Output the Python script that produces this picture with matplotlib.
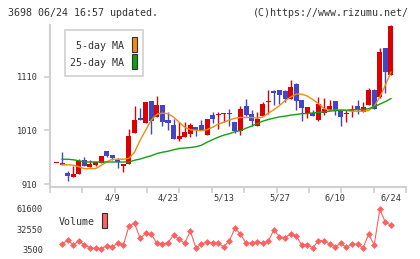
import numpy as np
import matplotlib
matplotlib.use("Agg")
import matplotlib.pyplot as plt
from matplotlib.patches import Rectangle

# price data
opens = [949, 949, 931, 923.6, 929, 954.7, 942.8, 945.4, 950.4, 972,
         964, 956, 943.5, 947.2, 1005.5, 1033, 1024, 1064.6, 1035, 1057,
         1029, 1020, 993.8, 998, 1003, 1016, 1020, 1001, 1038, 1038,
         1040, 1042, 1025.4, 1009, 1055, 1040, 1018, 1036.6, 1063, 1084,
         1085, 1083, 1068, 1096, 1066, 1042.7, 1042, 1029, 1042, 1048,
         1064.6, 1048, 1041, 1046, 1055, 1044, 1057, 1085, 1072.6, 1163,
         1113]
closes = [949, 946, 925.5, 928.6, 952.8, 944, 947.8, 951, 962, 962,
          959, 951.5, 947, 999.4, 1029.2, 1029, 1062.7, 1027, 1057, 1026,
          1024, 995, 999.4, 1006.8, 1020, 1010.5, 1010.5, 1030.5, 1031, 1040,
          1042, 1041, 1008.7, 1049.7, 1038.5, 1027, 1031, 1059, 1064.6, 1079.5,
          1076, 1068, 1090.6, 1065, 1052, 1053, 1037, 1059, 1049.7, 1055,
          1048, 1035, 1042, 1048, 1048, 1053, 1085, 1050, 1156, 1119,
          1204]
highs = [949, 970, 934.8, 943.5, 957.9, 960.8, 954.7, 952, 962, 972,
         964, 959.7, 947, 1012.4, 1055.8, 1051, 1062.7, 1064.6, 1074.5, 1057,
         1043.5, 1030.5, 1026, 1026, 1024, 1016, 1029, 1032, 1044, 1043.5,
         1042, 1049, 1025.4, 1055, 1068, 1048, 1044, 1062.7, 1085, 1085,
         1085, 1085, 1103.7, 1098, 1066, 1053, 1048, 1072, 1070, 1066.4,
         1064.6, 1048, 1048, 1057, 1066, 1062.7, 1089, 1087, 1163, 1163,
         1206]
lows = [949, 945, 916, 923.6, 929, 944, 942.8, 944, 950.4, 961,
        954.7, 940, 933, 947, 1005.5, 1029, 1024, 1004, 1035, 1018.6,
        1010.5, 994, 990.6, 998, 998, 999, 1010, 1001, 1023, 1013.6,
        1026, 1018, 1005.5, 1001, 1036, 1018, 1018, 1036, 1040, 1057,
        1060, 1063, 1068, 1048, 1028, 1033.5, 1037, 1027, 1038.5, 1048,
        1038.5, 1018, 1025.5, 1035, 1040, 1044, 1057, 1050, 1070, 1080,
        1113]

# moving averages (from index 1)
ma5 = [946.3, 946.3, 945.4, 942.6, 939.2, 939.2, 939.2, 945, 951.9, 956.6,
       956.6, 956.6, 958.4, 969.6, 991.9, 1010.5, 1029.2, 1040.3, 1042.2, 1041.3,
       1034.8, 1025.4, 1016.1, 1011.5, 1010.5, 1009.6, 1011.5, 1016.1, 1021.7, 1025.4,
       1029.2, 1032.9, 1034.2, 1034.2, 1034.2, 1032.9, 1034.8, 1042.2, 1048.7, 1056.2,
       1065.5, 1072, 1077.6, 1077.6, 1073.9, 1067.3, 1059.9, 1050.6, 1047.8, 1047.8,
       1047.8, 1046.9, 1045.9, 1045.9, 1045.9, 1046.9, 1055.2, 1072, 1094.3, 1118.5]
ma25 = [956.6, 956.6, 955.6, 953.8, 951.5, 951.5, 951.5, 951.5, 951.5, 951.5,
        951.5, 951.5, 951.5, 954.7, 956.9, 960.3, 963.1, 967.2, 969.6, 971.4,
        974.2, 976.5, 977.4, 978.3, 979.8, 982.6, 988.2, 992.9, 997.5, 1001.3,
        1004, 1007.8, 1009.6, 1014.3, 1018, 1023, 1027.3, 1030.5, 1032.9, 1035.3,
        1036.6, 1038.5, 1039.8, 1041.3, 1041.6, 1042.6, 1043.5, 1044.6, 1045.9, 1046.9,
        1047.8, 1047.8, 1048.7, 1049.1, 1049.1, 1050.6, 1054.3, 1059, 1063.6, 1069.2]

volume = [10700, 16940, 9740, 15500, 9740, 5900, 4940, 4460, 8300, 7340,
          12140, 9740, 37100, 40940, 19340, 26540, 25100, 12140, 11180, 13100,
          24140, 17900, 12140, 29900, 5900, 10700, 14540, 12140, 12140, 7340,
          15500, 33740, 25580, 12140, 12140, 14540, 12140, 15500, 31340, 21740,
          20300, 25580, 22700, 9740, 9740, 5900, 15980, 15980, 10700, 7340,
          12140, 6380, 10700, 10700, 5900, 25100, 9740, 61100, 42380, 38540]

date_pos = [10, 20, 30, 40, 50, 60]
date_labels = ["4/9", "4/23", "5/13", "5/27", "6/10", "6/24"]
price_ticks = [910, 1010, 1110]
vol_ticks = [3500, 32550, 61600]

RED = "#dd0000"
BLUE = "#4444c4"
GRID = "#d0d0d0"
TXT = "#333333"
FONT = "DejaVu Sans Mono"
plt.rcParams["font.family"] = FONT

W, H = 420, 259
fig = plt.figure(figsize=(W / 100, H / 100), dpi=100)

def frect(x0, y0, x1, y1):
    # pixel box -> figure fraction
    return [x0 / W, 1 - y1 / H, (x1 - x0) / W, (y1 - y0) / H]

ax = fig.add_axes(frect(50, 25, 406, 187))
vax = fig.add_axes(frect(50, 205, 406, 253))

xmin, xmax = -1.17, 62.7
n = len(opens)
x = np.arange(n)
o = np.array(opens); c = np.array(closes)
cols = [RED if cc >= oo else BLUE for oo, cc in zip(o, c)]
ax.vlines(x, lows, highs, colors=cols, lw=1)
bot = np.minimum(o, c)
hgt = np.maximum(np.abs(c - o), 1.8)
ax.bar(x, hgt, bottom=bot, width=0.9, color=cols, linewidth=0)

ax.plot(x[1:], ma5, color="#f08c10", lw=1)
ax.plot(x[1:], ma25, color="#10a010", lw=1)

ax.set_xlim(xmin, xmax)
ax.set_ylim(905, 1206)
ax.set_yticks(price_ticks)
ax.set_yticklabels([str(t) for t in price_ticks])
ax.set_xticks(date_pos)
ax.set_xticklabels(date_labels)
ax.set_xticks(np.linspace(xmin, xmax, 12), minor=True)
ax.tick_params(axis="x", which="major", length=0, pad=5, labelsize=6.2, colors=TXT)
ax.tick_params(axis="x", which="minor", length=4, color=GRID, width=1.2)
ax.tick_params(axis="y", length=4, color=GRID, width=1.2, pad=5, labelsize=6.2, labelcolor=TXT)
for s in ["top", "right"]:
    ax.spines[s].set_visible(False)
for s in ["left", "bottom"]:
    ax.spines[s].set_color(GRID)
    ax.spines[s].set_linewidth(1.5)

# volume panel
vx = x[1:]
vax.plot(vx, volume, color="#ff6060", lw=0.8, marker="D", ms=3.0, mec="#ff6060", mew=0.5)
vax.set_xlim(xmin, xmax)
vax.set_ylim(-1830, 67364)
vax.set_xticks([])
vax.set_yticks(vol_ticks)
vax.set_yticklabels([str(t) for t in vol_ticks])
vax.tick_params(axis="y", length=0, pad=5, labelsize=6.2, labelcolor=TXT)
for s in vax.spines.values():
    s.set_visible(False)

# legends
fig.patches.append(Rectangle((65 / W, 1 - 76 / H), 78 / W, 46 / H, transform=fig.transFigure,
                             fc="white", ec=GRID, lw=1.2, zorder=5))
fig.text(124 / W, 1 - 46 / H, "5-day MA", ha="right", va="center", fontsize=7.2, color=TXT, zorder=6)
fig.text(124 / W, 1 - 63 / H, "25-day MA", ha="right", va="center", fontsize=7.2, color=TXT, zorder=6)
fig.patches.append(Rectangle((132 / W, 1 - 52 / H), 5 / W, 15 / H, transform=fig.transFigure,
                             fc="#f08c10", ec="#333333", lw=0.8, zorder=6))
fig.patches.append(Rectangle((132 / W, 1 - 69 / H), 5 / W, 15 / H, transform=fig.transFigure,
                             fc="#10a010", ec="#333333", lw=0.8, zorder=6))
fig.text(59 / W, 1 - 222 / H, "Volume", ha="left", va="center", fontsize=7.2, color=TXT)
fig.patches.append(Rectangle((102 / W, 1 - 228 / H), 5 / W, 15 / H, transform=fig.transFigure,
                             fc="#ff6060", ec="#333333", lw=0.8, zorder=6))

fig.text(8 / W, 1 - 12.5 / H, "3698 06/24 16:57 updated.", ha="left", va="center", fontsize=7.2, color=TXT)
fig.text(409 / W, 1 - 12.5 / H, "(C)https://www.rizumu.net/", ha="right", va="center", fontsize=7.2, color=TXT)

fig.savefig("out.png", dpi=100)
